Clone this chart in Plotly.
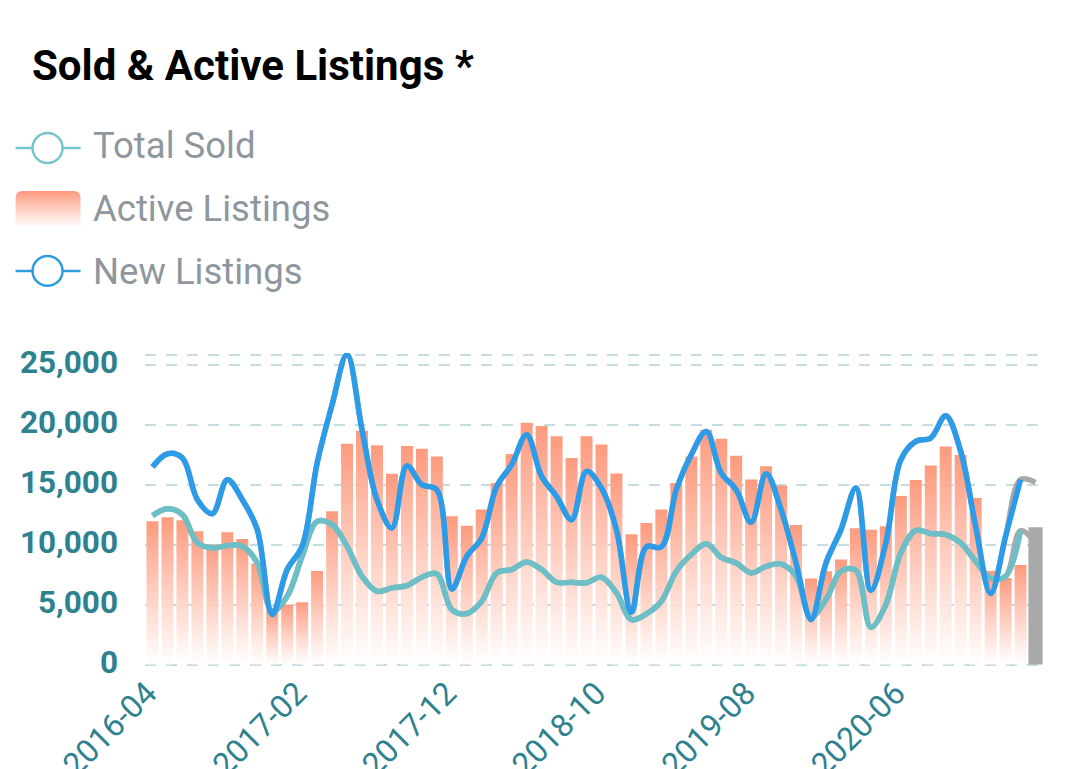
import pandas as pd
import plotly.graph_objects as go

months = [d.strftime("%Y-%m") for d in pd.date_range("2016-04-01", periods=60, freq="MS")]
tick_months = ["2016-04", "2017-02", "2017-12", "2018-10", "2019-08", "2020-06"]
y_ticks = [0, 5000, 10000, 15000, 20000, 25000, 25860]
y_tick_labels = ["0", "5,000", "10,000", "15,000", "20,000", "25,000", ""]

active_listings = [
    11940, 12280, 12030, 11110, 10000, 11030, 10470, 8420, 4580, 5000,
    5190, 7800, 12780, 18420, 19500, 18280, 15920, 18220, 18000, 17360,
    12360, 11580, 12920, 15140, 17560, 20170, 19890, 19030, 17220, 19030,
    18360, 15940, 10860, 11810, 12920, 15140, 17360, 19580, 18830, 17420,
    15440, 16530, 14940, 11640, 7170, 7780, 8750, 11360, 11250, 11530,
    14060, 15390, 16610, 18190, 17470, 13890, 7800, 7220, 8310,
]
highlight_value = 11440

new_listings = [
    16470, 17580, 17220, 13750, 12580, 15420, 13750, 11250, 4170, 7920,
    9860, 16800, 21670, 25860, 19580, 13750, 11390, 16580, 15000, 14580,
    6300, 9030, 10560, 14860, 16670, 19170, 15690, 14030, 12080, 16110,
    14720, 11250, 4360, 9810, 9810, 14580, 17500, 19440, 15970, 14580,
    11860, 15920, 12920, 8470, 3750, 8470, 11250, 14720, 6190, 10140,
    17080, 18610, 18890, 20750, 17780, 11530, 5920, 10690, 15420, 15190,
]
total_sold = [
    12420, 13000, 12500, 10140, 9720, 9920, 9860, 8470, 4440, 5690,
    9030, 11940, 11670, 9860, 7360, 6110, 6390, 6580, 7280, 7560,
    4580, 4250, 5280, 7640, 7920, 8560, 7920, 6860, 6860, 6810,
    7280, 5970, 3750, 4220, 5280, 7780, 9170, 10080, 8940, 8470,
    7640, 8190, 8390, 7360, 3970, 5420, 7780, 7860, 3110, 5000,
    9310, 11190, 10920, 10830, 10140, 8610, 7220, 7360, 11170, 10140,
]

W, H = 1080, 769
# plot box is a bit bigger than the grid, plotly drops gridlines sitting on the edge
LEFT, RIGHT, TOP, BOTTOM = 144.5, 1043, 353.2, 666.5

TEAL = "#6DBFC7"
BLUE = "#2C9BE8"
ORANGE = "#FD9A7E"
GREY = "#A9A9A9"
AXIS_TEXT = "#2E8290"
LEGEND_TEXT = "#8F979E"


def px(x):
    return (x - LEFT) / (RIGHT - LEFT)


def py(y):
    return (BOTTOM - y) / (BOTTOM - TOP)


fig = go.Figure()
fig.add_bar(x=months[:-1], y=active_listings, marker_color=ORANGE, marker_line_width=0,
            width=0.8, name="Active Listings")
fig.add_bar(x=months[-1:], y=[highlight_value], marker_color=GREY, marker_line_width=0,
            width=0.95, showlegend=False)

for series, color, name in [(total_sold, TEAL, "Total Sold"), (new_listings, BLUE, "New Listings")]:
    # grey full line underneath so only the last month shows grey
    fig.add_scatter(x=months, y=series, mode="lines", showlegend=False, cliponaxis=False,
                    line=dict(color=GREY, width=5.5, shape="spline", smoothing=1.0))
    fig.add_scatter(x=months[:-1], y=series[:-1], mode="lines", name=name, cliponaxis=False,
                    line=dict(color=color, width=5.5, shape="spline", smoothing=1.0))

# hand drawn legend, the built in one can't do the big circles or the spacing
shapes = []
annotations = []
for label, color, cy in [("Total Sold", "#75C5CF", 148), ("New Listings", "#2F9BE0", 271)]:
    shapes.append(dict(type="line", xref="paper", yref="paper", layer="above",
                       x0=px(15), x1=px(80), y0=py(cy), y1=py(cy),
                       line=dict(color=color, width=2.5)))
    shapes.append(dict(type="circle", xref="paper", yref="paper", layer="above",
                       x0=px(32), x1=px(62), y0=py(cy - 15), y1=py(cy + 15),
                       fillcolor="white", line=dict(color=color, width=2.5)))

sx0, sx1, sy0, sy1, r = 15, 80, 191, 228, 7
swatch = (f"M {px(sx0)},{py(sy1)} L {px(sx0)},{py(sy0 + r)} "
          f"Q {px(sx0)},{py(sy0)} {px(sx0 + r)},{py(sy0)} L {px(sx1 - r)},{py(sy0)} "
          f"Q {px(sx1)},{py(sy0)} {px(sx1)},{py(sy0 + r)} L {px(sx1)},{py(sy1)} Z")
shapes.append(dict(type="path", xref="paper", yref="paper", layer="above", path=swatch,
                   fillcolor=ORANGE, line=dict(width=0)))

for label, cy in [("Total Sold", 146), ("Active Listings", 209), ("New Listings", 272)]:
    annotations.append(dict(text=label, xref="paper", yref="paper", x=px(90), y=py(cy),
                            xanchor="left", yanchor="middle", showarrow=False,
                            font=dict(family="Roboto", size=36.5, color=LEGEND_TEXT)))

fig.update_layout(
    width=W, height=H,
    margin=dict(l=LEFT, r=W - RIGHT, t=TOP, b=H - BOTTOM, pad=0, autoexpand=False),
    paper_bgcolor="white", plot_bgcolor="white",
    showlegend=False, barmode="overlay",
    title=dict(text="<b>Sold & Active Listings *</b>", x=32 / W, xanchor="left",
               y=1 - 65 / H, yanchor="middle", automargin=False,
               font=dict(family="Roboto", size=42, color="black")),
    shapes=shapes, annotations=annotations,
)
fig.update_xaxes(type="category", categoryorder="array", categoryarray=months,
                 range=[-0.5, 59.5], tickmode="array", tickvals=tick_months, automargin=False,
                 tickangle=-45, ticks="", showgrid=False, showline=False, zeroline=False,
                 ticklabelshift=-5, ticklabelstandoff=1,
                 tickfont=dict(family="Roboto", size=32, color=AXIS_TEXT))
fig.update_yaxes(range=[-125, 25985], tickmode="array", tickvals=y_ticks, ticktext=y_tick_labels,
                 showgrid=True, gridcolor="#C5DDE0", gridwidth=2, griddash="11px,10px",
                 zeroline=False, showline=False, ticks="", ticklabelstandoff=26, automargin=False,
                 ticklabelshift=-3,
                 tickfont=dict(family="Roboto", size=31.5, color=AXIS_TEXT, weight="bold"))

# bars fade to white, plotly has no gradient for them so add it to the svg
post_script = """
document.body.style.margin = '0';
var gd = document.getElementById('{plot_id}');
var ns = 'http://www.w3.org/2000/svg';
var grad = document.createElementNS(ns, 'linearGradient');
grad.setAttribute('id', 'barFade');
grad.setAttribute('x1', '0'); grad.setAttribute('y1', '0');
grad.setAttribute('x2', '0'); grad.setAttribute('y2', '1');
[['0', '%s', '1'], ['1', '#ffffff', '0.9']].forEach(function (s) {
    var stop = document.createElementNS(ns, 'stop');
    stop.setAttribute('offset', s[0]);
    stop.setAttribute('stop-color', s[1]);
    stop.setAttribute('stop-opacity', s[2]);
    grad.appendChild(stop);
});
gd.querySelector('.main-svg defs').appendChild(grad);
gd.querySelectorAll('.barlayer .trace')[0].querySelectorAll('.point path').forEach(function (p) {
    p.style.fill = 'url(#barFade)';
});
gd.querySelectorAll('.shapelayer path').forEach(function (p) {
    if (p.style.fill === 'rgb(253, 154, 126)') p.style.fill = 'url(#barFade)';
});
gd.querySelectorAll('.ygrid').forEach(function (p) {
    p.style.strokeDasharray = '11px,10px';
});
""" % ORANGE

fig.write_html("out.html", post_script=post_script, config=dict(displayModeBar=False))
